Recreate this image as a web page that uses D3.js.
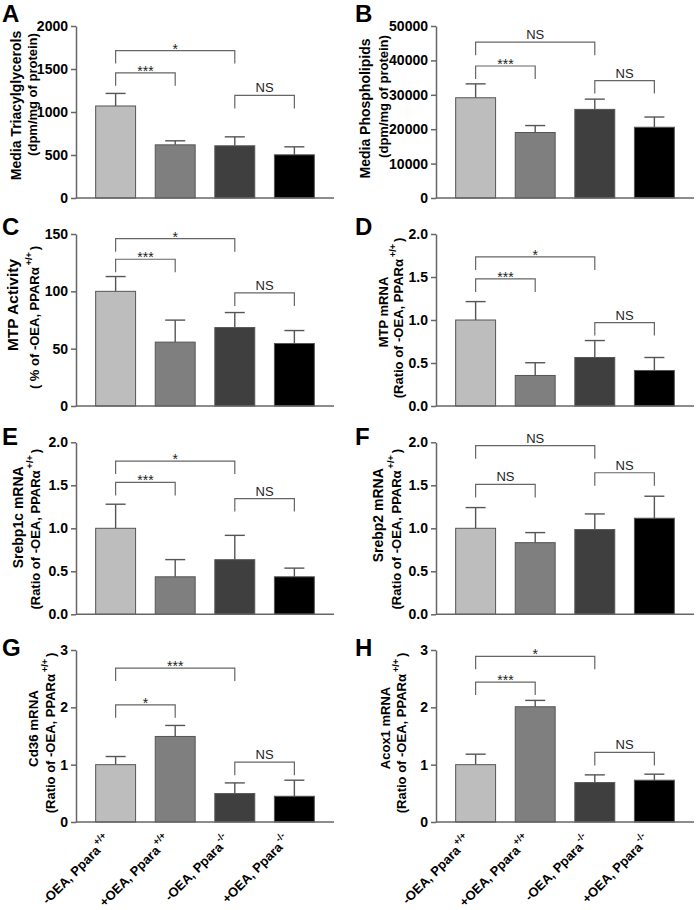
<!DOCTYPE html>
<html><head><meta charset="utf-8">
<script src="https://cdn.jsdelivr.net/npm/d3@7"></script>
<style>body{margin:0;background:#fff;} svg{display:block;font-family:"Liberation Sans",Arial,Helvetica,sans-serif;}</style>
</head><body>
<script>
// ---------- data ----------
const groups = ["-OEA, Ppara", "+OEA, Ppara", "-OEA, Ppara", "+OEA, Ppara"];
const genotypes = ["+/+", "+/+", "-/-", "-/-"];
const barColors = ["#bdbdbd", "#7f7f7f", "#3f3f3f", "#000000"];

const tgMean = [1070, 618, 607, 502];
const tgErr = [146, 47, 104, 93];
const tgTicks = [0, 500, 1000, 1500, 2000];
const tgSig = [[0, 2, 1714, "*"], [0, 1, 1456, "***"], [2, 3, 1193, "NS"]];

const plMean = [29140, 19040, 25760, 20570];
const plErr = [4040, 2020, 2980, 2970];
const plTicks = [0, 10000, 20000, 30000, 40000, 50000];
const plSig = [[0, 2, 45300, "NS"], [0, 1, 38370, "***"], [2, 3, 34130, "NS"]];

const mtpActMean = [100, 55.7, 68.4, 54.5];
const mtpActErr = [12.9, 19.2, 13.1, 11.3];
const mtpActTicks = [0, 50, 100, 150];
const mtpActSig = [[0, 2, 145.9, "*"], [0, 1, 128, "***"], [2, 3, 98.6, "NS"]];

const mtpMean = [1.0, 0.355, 0.564, 0.413];
const mtpErr = [0.214, 0.148, 0.197, 0.151];
const ratioTicks = [0, 0.5, 1.0, 1.5, 2.0];
const mtpSig = [[0, 2, 1.733, "*"], [0, 1, 1.478, "***"], [2, 3, 0.970, "NS"]];

const srebp1Mean = [1.0, 0.436, 0.635, 0.436];
const srebp1Err = [0.28, 0.2, 0.283, 0.101];
const srebp1Sig = [[0, 2, 1.782, "*"], [0, 1, 1.533, "***"], [2, 3, 1.346, "NS"]];

const srebp2Mean = [1.0, 0.833, 0.985, 1.117];
const srebp2Err = [0.241, 0.117, 0.182, 0.256];
const srebp2Sig = [[0, 2, 1.961, "NS"], [0, 1, 1.510, "NS"], [2, 3, 1.646, "NS"]];

const cd36Mean = [1.0, 1.492, 0.496, 0.449];
const cd36Err = [0.142, 0.192, 0.186, 0.28];
const foldTicks = [0, 1, 2, 3];
const cd36Sig = [[0, 2, 2.685, "***"], [0, 1, 2.044, "*"], [2, 3, 1.043, "NS"]];

const acoxMean = [1.0, 2.01, 0.688, 0.729];
const acoxErr = [0.183, 0.111, 0.134, 0.105];
const acoxSig = [[0, 2, 2.89, "*"], [0, 1, 2.44, "***"], [2, 3, 1.213, "NS"]];

// ---------- layout ----------
const colX = [76, 436];
const rowY = [26, 234, 442.3, 650];
const plotW = 258, plotH = 172;
const letterY = [22, 235, 445, 656];
const legLen = 13;

const f0 = d3.format("d"), f1 = d3.format(".1f");
const panels = [
  {L:"A", col:0, row:0, mean:tgMean, err:tgErr, ticks:tgTicks, fmt:f0, sig:tgSig,
   l1:["Media Triacylglycerols",14,"bold",-55,-6.5], l2:["(dpm/mg of protein)",13,"bold",-39.5,-17.5,false]},
  {L:"B", col:1, row:0, mean:plMean, err:plErr, ticks:plTicks, fmt:f0, sig:plSig,
   l1:["Media Phospholipids",14,"bold",-66,-3.5], l2:["(dpm/mg of protein)",13,"bold",-48,-15.5,false]},
  {L:"C", col:0, row:1, mean:mtpActMean, err:mtpActErr, ticks:mtpActTicks, fmt:f0, sig:mtpActSig,
   l1:["MTP Activity",15.5,"bold",-58,-15], l2:["( % of -OEA, PPARα",13,"bold",-37,-2.5,true]},
  {L:"D", col:1, row:1, mean:mtpMean, err:mtpErr, ticks:ratioTicks, fmt:f1, sig:mtpSig,
   l1:["MTP mRNA",13,"bold",-48,-8], l2:["(Ratio of -OEA, PPARα",13,"bold",-33,-2,true]},
  {L:"E", col:0, row:2, mean:srebp1Mean, err:srebp1Err, ticks:ratioTicks, fmt:f1, sig:srebp1Sig,
   l1:["Srebp1c mRNA",14,"bold",-53,-11], l2:["(Ratio of -OEA, PPARα",13,"bold",-36,1,true]},
  {L:"F", col:1, row:2, mean:srebp2Mean, err:srebp2Err, ticks:ratioTicks, fmt:f1, sig:srebp2Sig,
   l1:["Srebp2 mRNA",14,"bold",-53,-13], l2:["(Ratio of -OEA, PPARα",13,"bold",-35,1,true]},
  {L:"G", col:0, row:3, mean:cd36Mean, err:cd36Err, ticks:foldTicks, fmt:f0, sig:cd36Sig,
   l1:["Cd36 mRNA",13.3,"bold",-38,-7.5], l2:["(Ratio of -OEA, PPARα",13,"bold",-21,-3,true]},
  {L:"H", col:1, row:3, mean:acoxMean, err:acoxErr, ticks:foldTicks, fmt:f0, sig:acoxSig,
   l1:["Acox1 mRNA",13,"bold",-46,-8], l2:["(Ratio of -OEA, PPARα",13,"bold",-30,-3,true]}
];

const svg = d3.select("body").append("svg").attr("width", 697).attr("height", 910);

panels.forEach(p => {
  const x0 = colX[p.col], top = rowY[p.row];
  const x = d3.scaleBand().domain(d3.range(groups.length)).range([x0, x0 + plotW]).padding(0.33);
  const y = d3.scaleLinear().domain([0, p.ticks[p.ticks.length - 1]]).range([top + plotH, top]);
  const g = svg.append("g");
  const cx = i => x(i) + x.bandwidth() / 2;

  g.append("text").attr("x", p.col === 0 ? 2 : 355).attr("y", letterY[p.row])
    .attr("font-size", 24).attr("font-weight", "bold").text(p.L);

  g.selectAll(".eb").data(p.mean).join("line").attr("class", "eb")
    .attr("x1", (d, i) => cx(i)).attr("x2", (d, i) => cx(i))
    .attr("y1", d => y(d)).attr("y2", (d, i) => y(d + p.err[i]))
    .attr("stroke", "#555").attr("stroke-width", 1.4);
  g.selectAll(".ec").data(p.mean).join("line").attr("class", "ec")
    .attr("x1", (d, i) => cx(i) - 10).attr("x2", (d, i) => cx(i) + 10)
    .attr("y1", (d, i) => y(d + p.err[i])).attr("y2", (d, i) => y(d + p.err[i]))
    .attr("stroke", "#555").attr("stroke-width", 1.4);

  g.selectAll(".bar").data(p.mean).join("rect").attr("class", "bar")
    .attr("x", (d, i) => x(i)).attr("y", d => y(d))
    .attr("width", x.bandwidth()).attr("height", d => y(0) - y(d))
    .attr("fill", (d, i) => barColors[i]).attr("stroke", "#555").attr("stroke-width", 1);

  const ax = g.append("g").attr("transform", `translate(${x0},0)`)
    .call(d3.axisLeft(y).tickValues(p.ticks).tickFormat(p.fmt).tickSize(5).tickSizeOuter(0).tickPadding(3));
  ax.select(".domain").attr("stroke", "#666").attr("stroke-width", 1.5);
  ax.selectAll(".tick line").attr("stroke", "#666").attr("stroke-width", 1.5);
  ax.selectAll(".tick text").attr("font-size", 14).attr("font-weight", "bold").attr("fill", "#000")
    .attr("font-family", "'Liberation Sans',Arial,sans-serif");

  g.append("line").attr("x1", x0).attr("x2", x0 + plotW).attr("y1", y(0)).attr("y2", y(0))
    .attr("stroke", "#666").attr("stroke-width", 1.5);

  p.sig.forEach(s => {
    const xa = cx(s[0]), xb = cx(s[1]), yt = y(s[2]);
    g.append("path").attr("d", `M${xa},${yt + legLen}V${yt}H${xb}V${yt + legLen}`)
      .attr("fill", "none").attr("stroke", "#666").attr("stroke-width", 1.2);
    const isNS = s[3] === "NS";
    g.append("text").attr("x", (xa + xb) / 2).attr("y", isNS ? yt - 3 : yt + 3)
      .attr("text-anchor", "middle").attr("font-size", isNS ? 13 : 14).attr("fill", "#222")
      .text(s[3]);
  });

  const cy = top + plotH / 2;
  g.append("text").attr("transform", `translate(${x0 + p.l1[3]},${cy + p.l1[4]}) rotate(-90)`)
    .attr("text-anchor", "middle").attr("font-size", p.l1[1]).attr("font-weight", p.l1[2]).text(p.l1[0]);
  const t2 = g.append("text").attr("transform", `translate(${x0 + p.l2[3]},${cy + p.l2[4]}) rotate(-90)`)
    .attr("text-anchor", "middle").attr("font-size", p.l2[1]).attr("font-weight", p.l2[2]);
  t2.append("tspan").text(p.l2[0]);
  if (p.l2[5]) {
    t2.append("tspan").attr("dy", -7).attr("dx", 2).attr("font-size", 9).text("+/+");
    t2.append("tspan").attr("dy", 7).attr("dx", 2).text(")");
  }

  if (p.row === 3) {
    groups.forEach((gname, i) => {
      const t = g.append("text")
        .attr("transform", `translate(${cx(i) - 4},${y(0) + 19}) rotate(-45)`)
        .attr("text-anchor", "end").attr("font-size", 13).attr("font-weight", "bold");
      t.append("tspan").text(gname);
      t.append("tspan").attr("dy", -7).attr("dx", 1).attr("font-size", 9.5).text(genotypes[i]);
    });
  }
});
</script>
</body></html>
